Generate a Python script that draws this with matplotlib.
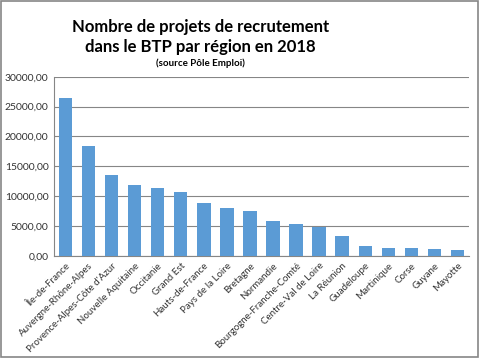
import matplotlib
matplotlib.use("Agg")
import matplotlib.pyplot as plt
from matplotlib.patches import Rectangle
from matplotlib.ticker import FuncFormatter

regions = ["Île-de-France", "Auvergne-Rhône-Alpes", "Provence-Alpes-Côte d'Azur",
           "Nouvelle Aquitaine", "Occitanie", "Grand Est", "Hauts-de-France",
           "Pays de la Loire", "Bretagne", "Normandie", "Bourgogne-Franche-Comté",
           "Centre-Val de Loire", "La Réunion", "Guadeloupe", "Martinique",
           "Corse", "Guyane", "Mayotte"]
values = [26430, 18390, 13520, 11850, 11350, 10680, 8830, 7990, 7460, 5780,
          5280, 4780, 3270, 1590, 1260, 1260, 1090, 920]
yticks = [0, 5000, 10000, 15000, 20000, 25000, 30000]

plt.rcParams['font.family'] = ['Lato', 'DejaVu Sans']

fig = plt.figure(figsize=(4.79, 3.58), dpi=100)
ax = fig.add_axes([0.1127, 0.2857, 0.979 - 0.1127, 0.5])

x = range(len(regions))
ax.bar(x, values, width=0.58, color='#5B9BD5', zorder=3)
ax.set_xlim(-0.5, len(regions) - 0.5)
ax.set_ylim(0, 30000)
ax.set_yticks(yticks)
ax.yaxis.set_major_formatter(FuncFormatter(lambda v, p: f"{v:.2f}".replace('.', ',')))
ax.grid(axis='y', color='#868686', linewidth=0.8, zorder=0)
ax.set_xticks(list(x))
ax.set_xticklabels(regions, rotation=45, ha='right', rotation_mode='anchor', fontsize=7, color='#333333')
ax.tick_params(axis='y', labelsize=7.5, length=0, pad=4, colors='#333333')
ax.tick_params(axis='x', length=0, pad=4)
for s in ['top', 'right']:
    ax.spines[s].set_visible(False)
ax.spines['left'].set_color('#868686')
ax.spines['bottom'].set_color('#868686')

fig.text(0.418, 0.925, "Nombre de projets de recrutement", ha='center', va='center',
         fontsize=12, fontweight='bold')
fig.text(0.418, 0.869, "dans le BTP par région en 2018", ha='center', va='center',
         fontsize=12, fontweight='bold')
fig.text(0.418, 0.823, "(source Pôle Emploi)", ha='center', va='center',
         fontsize=7, fontweight='bold')

fig.patches.append(Rectangle((0.002, 0.003), 0.996, 0.994, transform=fig.transFigure,
                             fill=False, edgecolor='#868686', linewidth=1.2))

fig.savefig("out.png", dpi=100)
